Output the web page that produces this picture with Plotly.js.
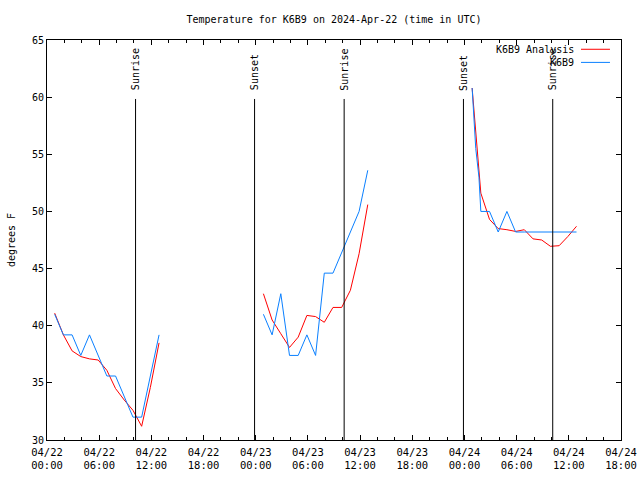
<!DOCTYPE html>
<html>
<head>
<meta charset="utf-8">
<script src="https://cdn.plot.ly/plotly-3.0.1.min.js"></script>
<style>html,body{margin:0;padding:0;background:#fff;}#chart{width:640px;height:480px;}</style>
</head>
<body>
<div id="chart"></div>
<script>
// Observation / analysis times (UTC)
const times1 = ['2024-04-22 00:53','2024-04-22 01:53','2024-04-22 02:53','2024-04-22 03:53','2024-04-22 04:53','2024-04-22 05:53','2024-04-22 06:53','2024-04-22 07:53','2024-04-22 08:53','2024-04-22 09:53','2024-04-22 10:53','2024-04-22 11:53','2024-04-22 12:53'];
const times2 = ['2024-04-23 00:53','2024-04-23 01:53','2024-04-23 02:53','2024-04-23 03:53','2024-04-23 04:53','2024-04-23 05:53','2024-04-23 06:53','2024-04-23 07:53','2024-04-23 08:53','2024-04-23 09:53','2024-04-23 10:53','2024-04-23 11:53','2024-04-23 12:53'];
const times3 = ['2024-04-24 00:53','2024-04-24 01:53','2024-04-24 02:53','2024-04-24 03:53','2024-04-24 04:53','2024-04-24 05:53','2024-04-24 06:53','2024-04-24 07:53','2024-04-24 08:53','2024-04-24 09:53','2024-04-24 10:53','2024-04-24 11:53','2024-04-24 12:53'];
const times3obs = ['2024-04-24 00:53','2024-04-24 01:05','2024-04-24 01:18','2024-04-24 01:40','2024-04-24 01:53','2024-04-24 02:53','2024-04-24 03:53','2024-04-24 04:53','2024-04-24 05:53','2024-04-24 06:53','2024-04-24 07:53','2024-04-24 08:53','2024-04-24 09:53','2024-04-24 10:53','2024-04-24 11:53','2024-04-24 12:53'];

// K6B9 Analysis (red)
const analysis1 = [41.1, 39.2, 37.8, 37.3, 37.1, 37.0, 36.1, 34.5, 33.5, 32.6, 31.2, 34.6, 38.5];
const analysis2 = [42.8, 40.5, 39.3, 38.1, 39.0, 40.9, 40.8, 40.3, 41.6, 41.6, 43.1, 46.3, 50.6];
const analysis3 = [60.8, 51.6, 49.3, 48.5, 48.4, 48.25, 48.4, 47.6, 47.5, 46.95, 47.0, 47.8, 48.7];

// K6B9 observations (blue)
const obs1 = [41.0, 39.2, 39.2, 37.4, 39.2, 37.4, 35.6, 35.6, 33.8, 32.0, 32.0, 35.6, 39.2];
const obs2 = [41.0, 39.2, 42.8, 37.4, 37.4, 39.2, 37.4, 44.6, 44.6, 46.4, 48.2, 50.0, 53.6];
const obs3 = [60.8, 57.9, 55.5, 53.0, 50.0, 50.0, 48.2, 50.0, 48.2, 48.2, 48.2, 48.2, 48.2, 48.2, 48.2, 48.2];

// Sunrise / sunset markers
const sunEventTimes = ['2024-04-22 10:11','2024-04-22 23:52','2024-04-23 10:10','2024-04-23 23:53','2024-04-24 10:09'];
const sunEventLabels = ['Sunrise','Sunset','Sunrise','Sunset','Sunrise'];

const seriesNames = ['K6B9 Analysis', 'K6B9'];
const seriesColors = ['#ff0000', '#0a80ff'];

const yMin = 30, yMax = 65;
const eventLineTop = 59.84;
const eventLabelBottom = 60.4;

function joinSegments(ts, vs) {
  const x = [], y = [];
  ts.forEach((t, i) => {
    if (i > 0) { x.push(null); y.push(null); }
    x.push(...t); y.push(...vs[i]);
  });
  return {x, y};
}

const red = joinSegments([times1, times2, times3], [analysis1, analysis2, analysis3]);
const blue = joinSegments([times1, times2, times3obs], [obs1, obs2, obs3]);

const font = {family: 'DejaVu Sans Mono, monospace', size: 10, color: '#000'};
const xTickFont = {family: 'DejaVu Sans Mono, monospace', size: 10.5, color: '#000'};

const traces = [
  {type: 'scatter', mode: 'lines', name: seriesNames[0], x: red.x, y: red.y,
   connectgaps: false, line: {color: seriesColors[0], width: 1}, showlegend: false},
  {type: 'scatter', mode: 'lines', name: seriesNames[1], x: blue.x, y: blue.y,
   connectgaps: false, line: {color: seriesColors[1], width: 1}, showlegend: false}
];

const shapes = sunEventTimes.map(t => ({
  type: 'line', xref: 'x', yref: 'y', x0: t, x1: t, y0: yMin, y1: eventLineTop,
  line: {color: '#000', width: 1}, layer: 'above'
}));

const annotations = sunEventTimes.map((t, i) => ({
  xref: 'x', yref: 'y', x: t, y: eventLabelBottom, text: sunEventLabels[i],
  textangle: -90, showarrow: false, xanchor: 'center', yanchor: 'bottom', font: font
}));

// gnuplot-style key: text right-aligned, sample line to the right
const keyY = [0.9768, 0.944];
seriesNames.forEach((n, i) => {
  annotations.push({xref: 'paper', yref: 'paper', x: 0.921, y: keyY[i], text: n,
    showarrow: false, xanchor: 'right', yanchor: 'middle', font: font});
  shapes.push({type: 'line', xref: 'paper', yref: 'paper', x0: 0.9303, x1: 0.9808,
    y0: keyY[i], y1: keyY[i], line: {color: seriesColors[i], width: 1}});
});

const layout = {
  width: 640, height: 480,
  margin: {l: 47, r: 19, t: 40, b: 40},
  paper_bgcolor: '#fff', plot_bgcolor: '#fff',
  font: font,
  showlegend: false,
  title: {text: 'Temperature for K6B9 on 2024-Apr-22 (time in UTC)', font: font,
    xref: 'paper', x: 0.5, xanchor: 'center', yref: 'container', y: 1 - 19/480, yanchor: 'middle'},
  xaxis: {
    type: 'date', range: ['2024-04-22 00:00', '2024-04-24 18:00'],
    tick0: '2024-04-22 00:00', dtick: 6 * 3600000, tickformat: '%m/%d<br>%H:%M',
    ticks: 'inside', ticklen: 5, tickcolor: '#000', tickwidth: 1,
    showline: true, linecolor: '#000', linewidth: 1, mirror: 'ticks',
    showgrid: false, zeroline: false, tickfont: xTickFont, ticklabelstandoff: 2,
    minor: {ticks: 'inside', ticklen: 3, dtick: 2 * 3600000, tickcolor: '#000', showgrid: false}
  },
  yaxis: {
    range: [yMin, yMax], dtick: 5, tick0: 30,
    ticks: 'inside', ticklen: 5, tickcolor: '#000', tickwidth: 1,
    showline: true, linecolor: '#000', linewidth: 1, mirror: 'ticks',
    showgrid: false, zeroline: false, tickfont: font,
    title: {text: 'degrees F', font: font, standoff: 14}
  },
  shapes: shapes,
  annotations: annotations
};

Plotly.newPlot('chart', traces, layout, {displayModeBar: false, staticPlot: true});
</script>
</body>
</html>
